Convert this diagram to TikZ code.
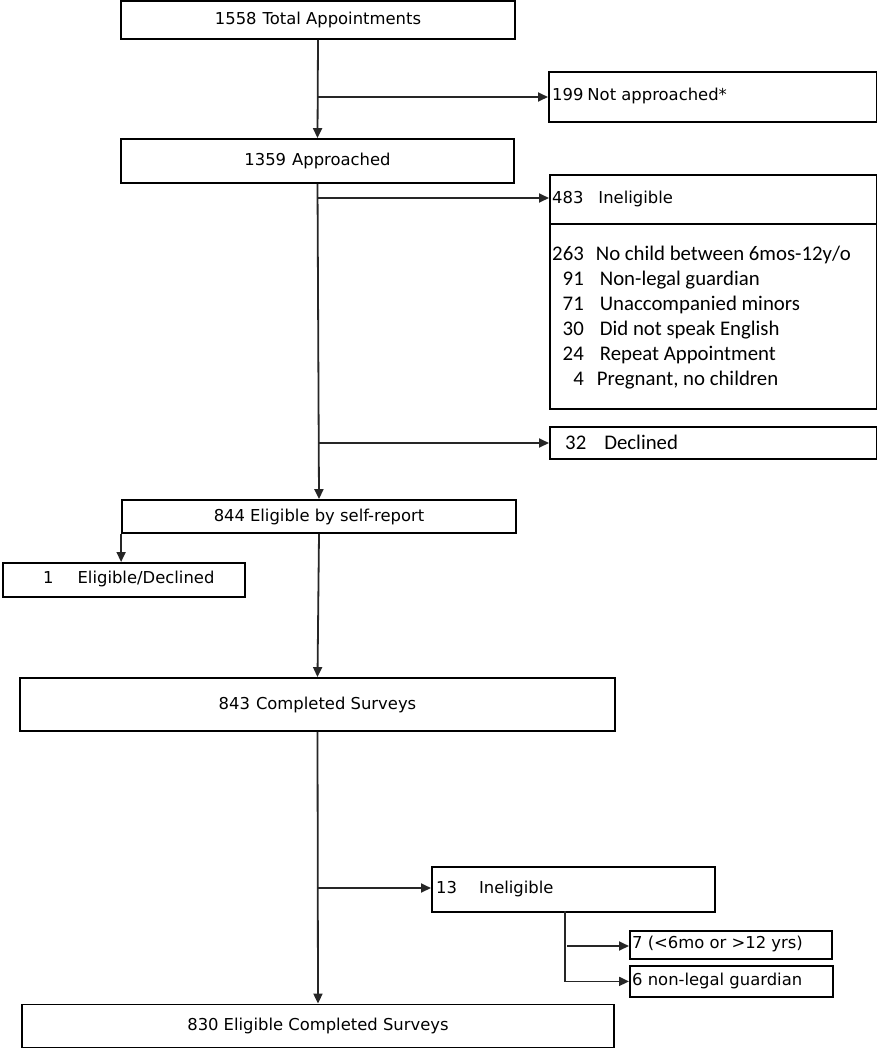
\documentclass[tikz,border=0pt]{standalone}
\usepackage{fontspec}
\setmainfont{DejaVu Sans}
\newfontfamily\carl{Carlito}
\usetikzlibrary{arrows.meta}
\begin{document}
\begin{tikzpicture}[x=1pt,y=-1pt,
  txt/.style={font=\fontsize{16.4}{19}\selectfont},
  box/.style={draw=black,line width=1.8pt,inner sep=0pt,txt},
  conn/.style={line width=1.8pt,draw=black!85,-{Triangle[length=10pt,width=9pt]}},
  ltxt/.style={anchor=west,inner sep=0pt,txt}]
\useasboundingbox (0,0) rectangle (877,1050);
% boxes
\node[box,minimum width=394pt,minimum height=38pt] (b1) at (318,20) {1558\hspace{6pt}Total Appointments};
\node[box,minimum width=328pt,minimum height=50pt,anchor=north west] (na) at (548,71) {};
\node[ltxt] (nat) at (552,96) {199\hspace{4pt}Not approached*};
\node[box,minimum width=393pt,minimum height=44pt] (b2) at (317.5,161) {1359\hspace{6pt}Approached};
\node[box,minimum width=327pt,minimum height=49pt,anchor=north west] (ie) at (549,174) {};
\node[ltxt] (iet) at (552,198.5) {483\hspace{15pt}Ineligible};
\node[box,minimum width=327pt,minimum height=185pt,anchor=north west] (il) at (549,223) {};
\node[anchor=north west,inner sep=0pt,font=\carl\fontsize{20.8}{25}\selectfont] (ilt) at (552,243)
 {\begin{tabular}{@{}r@{\hspace{16pt}}l@{}}
 263 & \hspace{-4pt}No child between 6mos-12y/o\\
 91 & Non-legal guardian\\
 71 & Unaccompanied minors\\
 30 & Did not speak English\\
 24 & Repeat Appointment\\
 4 & \hspace{-3pt}Pregnant, no children
 \end{tabular}};
\node[box,minimum width=327pt,minimum height=32pt,anchor=north west] (dc) at (549,426) {};
\node[anchor=west,inner sep=0pt,font=\carl\fontsize{20.8}{24}\selectfont] (dct) at (565,442) {32\hspace{18pt}Declined};
\node[box,minimum width=394pt,minimum height=33pt] (b3) at (319,516.5) {844\hspace{5pt}Eligible by self-report};
\node[box,minimum width=242pt,minimum height=34pt,anchor=north west] (ed) at (2,562) {};
\node[ltxt] (edt) at (43,579) {1\hspace{24pt}Eligible/Declined};
\node[box,minimum width=595pt,minimum height=53pt] (b4) at (317.5,704.5) {843\hspace{6pt}Completed Surveys};
\node[box,minimum width=283pt,minimum height=45pt,anchor=north west] (in13) at (431,866) {};
\node[ltxt] (in13t) at (436,888.5) {13\hspace{22pt}Ineligible};
\node[box,minimum width=202pt,minimum height=28pt,anchor=north west] (g7) at (629,930) {};
\node[ltxt] (g7t) at (632,944) {7 (<6mo or >12 yrs)};
\node[box,minimum width=203pt,minimum height=31pt,anchor=north west] (g6) at (629,965) {};
\node[ltxt] (g6t) at (632,980.5) {6 non-legal guardian};
\node[box,minimum width=592pt,minimum height=43pt] (b5) at (318,1026) {830\hspace{5pt}Eligible Completed Surveys};
% junction coordinates
\coordinate (j1) at (318,97);
\coordinate (j2) at (318,198);
\coordinate (j3) at (318,443);
\coordinate (j4) at (318,888);
\coordinate (k) at (565,911);
\coordinate (j5) at (567,946);
% connectors
\draw[conn] (b1.south) -- (b2.north);
\draw[conn] (j1) -- (j1 -| na.west);
\draw[conn] (b2.south) -- (b3.north);
\draw[conn] (j2) -- (j2 -| ie.west);
\draw[conn] (j3) -- (j3 -| dc.west);
\draw[conn] (b3.south west) -- (b3.south west |- ed.north);
\draw[conn] (b3.south) -- (b4.north);
\draw[conn] (b4.south) -- (b5.north);
\draw[conn] (j4) -- (j4 -| in13.west);
\draw[conn] (k) |- (g6.west);
\draw[conn] (j5) -- (j5 -| g7.west);
\end{tikzpicture}
\end{document}
